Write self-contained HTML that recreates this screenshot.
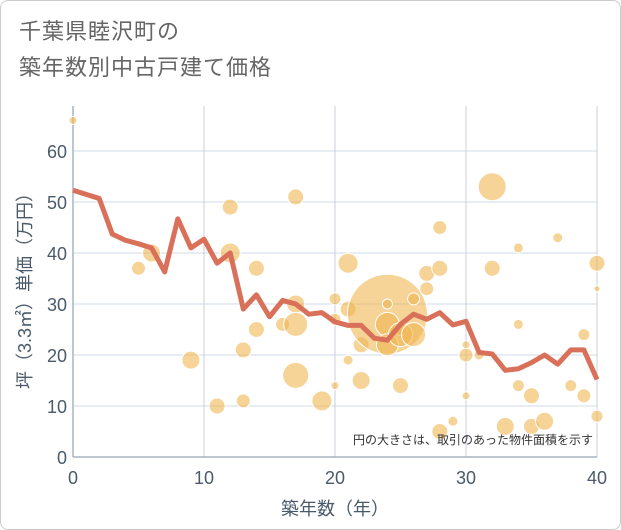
<!DOCTYPE html>
<html><head><meta charset="utf-8"><style>
body{margin:0;background:#fff}
#wrap{position:relative;width:619px;height:528px;border:1px solid #ccc;border-radius:8px;overflow:hidden;font-family:"Liberation Sans","Noto Sans CJK JP",sans-serif}
.title{position:absolute;left:18px;top:13px;font-size:22px;line-height:36px;color:#666;letter-spacing:1px}
</style></head><body>
<div id="wrap">
<div class="title">千葉県睦沢町の<br>築年数別中古戸建て価格</div>
<svg id="c" width="621" height="530" style="position:absolute;left:0;top:0"></svg>
</div>
<script>
const years=[0,1,2,3,4,5,6,7,8,9,10,11,12,13,14,15,16,17,18,19,20,21,22,23,24,25,26,27,28,29,30,31,32,33,34,35,36,37,38,39,40];
const avgPrice=[52.3,51.5,50.7,43.7,42.5,41.8,41,36.3,46.7,41,42.7,38,40,29,31.8,27.5,30.7,30,28,28.3,26.5,25.8,25.8,23.3,22.9,26,28,27,28.3,25.9,26.6,20.5,20.2,17,17.3,18.5,20,18.2,21,21,15.2];
const bubX=[0,5,6,9,11,12,12,13,13,14,14,16,17,17,17,17,19,20,20,20,21,21,21,22,22,24,24,24,24,25,25,25,26,26,27,27,28,28,28,29,30,30,30,31,32,32,33,34,34,34,35,35,36,37,38,39,39,40,40,40];
const bubY=[66,37,40,19,10,49,40,11,21,37,25,26,51,30,26,16,11,27,31,14,38,29,19,22,15,28,26,22,30,25,24,14,24,31,36,33,37,45,5,7,12,20,22,20,53,37,6,41,26,14,12,6,7,43,14,24,12,38,33,8];
const bubR=[4,7,9,9,8,8,10,7,8,8,8,7,8,9,12,13,10,6,6,4,10,8,5,8,9,40,12,11,5,6,12,8,12,6,8,7,8,7,8,5,4,7,4,5,14,8,9,5,5,6,8,8,9,5,6,6,7,8,3,6];
const tickVals=[0,10,20,30,40,50,60];
const xTickVals=[0,10,20,30,40];
const svg=document.getElementById('c');
const NS='http://www.w3.org/2000/svg';
const L=72,R=596,T=105,B=456;
const X=v=>L+(v/40)*(R-L);
const Y=v=>B-(v/60)*306;
function mk(t,a,p){const e=document.createElementNS(NS,t);for(const k in a)e.setAttribute(k,a[k]);(p||svg).appendChild(e);return e;}
const grid=mk('g',{});


tickVals.forEach(v=>{if(v>0)mk('line',{x1:L,x2:R,y1:Y(v),y2:Y(v),stroke:'#d0dbe8','stroke-width':1},grid);
 const t=mk('text',{x:L-6,y:Y(v)+7,'text-anchor':'end','font-size':18,fill:'#4a5a6a'});t.textContent=v;
 
 });
xTickVals.forEach(v=>{if(v>0)mk('line',{x1:X(v),x2:X(v),y1:T,y2:B,stroke:'#c8d0dc','stroke-width':1},grid);
 const t=mk('text',{x:X(v),y:B+27,'text-anchor':'middle','font-size':18,fill:'#4a5a6a'});t.textContent=v;
 
 });
mk('line',{x1:L,x2:L,y1:T,y2:B,stroke:'#a8b4c4','stroke-width':1.5});
mk('line',{x1:L,x2:R,y1:B,y2:B,stroke:'#a8b4c4','stroke-width':1.5});
const bg=mk('g',{});


bubX.forEach((x,i)=>{const c=mk('circle',{cx:X(x),cy:Y(bubY[i]),r:bubR[i],fill:'#f0b552','fill-opacity':0.6,stroke:'#fff','stroke-width':1},bg);
 
 });
const p=mk('polyline',{points:years.map((y,i)=>X(y)+','+Y(avgPrice[i])).join(' '),fill:'none',stroke:'#d9705a','stroke-width':5,'stroke-linejoin':'round'});


const note=mk('text',{x:592,y:443,'text-anchor':'end','font-size':12,fill:'#333'});note.textContent='円の大きさは、取引のあった物件面積を示す';


const xt=mk('text',{x:(L+R)/2,y:514,'text-anchor':'middle','font-size':18,fill:'#4a5a6a'});xt.textContent='築年数（年）';


const yt=mk('text',{x:0,y:0,'text-anchor':'middle','font-size':18,fill:'#4a5a6a',transform:'translate(30,'+((T+B)/2+5)+') rotate(-90)'});yt.textContent='坪（3.3㎡）単価（万円）';


</script>
</body></html>
